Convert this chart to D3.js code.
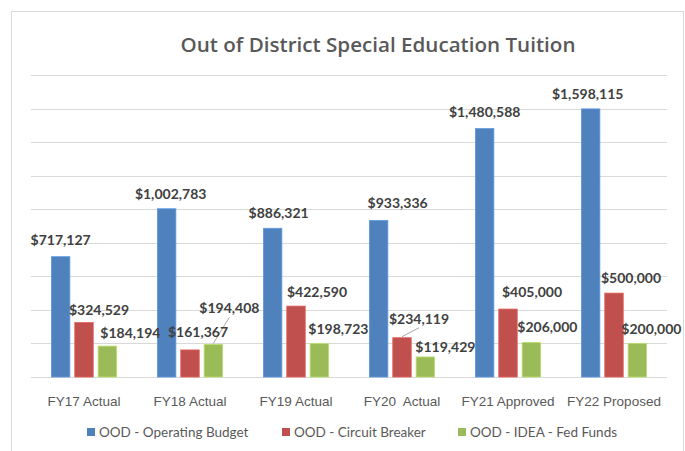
<!DOCTYPE html>
<html>
<head>
<meta charset="utf-8">
<script src="https://cdn.jsdelivr.net/npm/d3@7"></script>
<style>
  html, body { margin: 0; padding: 0; background: #fff; }
  svg { display: block; font-family: Lato, "Open Sans", sans-serif; }
  .grid line { stroke: #d9d9d9; stroke-width: 1; }
  .val { font-weight: bold; font-size: 14px; fill: #404040; }
  .cat { font-size: 13.5px; fill: #595959; }
  .leg { font-size: 13.5px; fill: #595959; }
</style>
</head>
<body>
<svg id="chart" width="685" height="451"></svg>
<script>
// data
const categories = ["FY17 Actual", "FY18 Actual", "FY19 Actual", "FY20  Actual", "FY21 Approved", "FY22 Proposed"];
const seriesNames = ["OOD - Operating Budget", "OOD - Circuit Breaker", "OOD - IDEA - Fed Funds"];
const operatingBudget = [717127, 1002783, 886321, 933336, 1480588, 1598115];
const circuitBreaker = [324529, 161367, 422590, 234119, 405000, 500000];
const ideaFedFunds = [184194, 194408, 198723, 119429, 206000, 200000];
const yTicks = [0, 200000, 400000, 600000, 800000, 1000000, 1200000, 1400000, 1600000, 1800000];

const colors = ["#4f81bd", "#c0504d", "#9bbb59"];

// label nudges (dx, dy from bar top centre), mimics Excel's moved labels
const labelNudge = [
  [[0, -12], [4, -10], [6, -10], [19, -12], [0, -12], [-3, -10]],
  [[15, -8], [8, -13], [21, -9], [17, -14], [24, -12], [17, -10]],
  [[23, -8], [16, -31], [19, -10], [20, -5], [16, -10], [14, -9]]
];
// which labels have a leader line
const leaders = [[1, 2], [3, 1]]; // [category index, series index]

const values = [operatingBudget, circuitBreaker, ideaFedFunds];

const svg = d3.select("#chart");
const plot = { left: 31, right: 667, top: 75, bottom: 377 };

// chart border
svg.append("rect")
  .attr("x", 11.5).attr("y", 11.5)
  .attr("width", 672).attr("height", 460)
  .attr("fill", "none")
  .attr("stroke", "#d9d9d9");

svg.append("text")
  .attr("x", 378).attr("y", 52)
  .attr("text-anchor", "middle")
  .style("font-family", "'Open Sans', sans-serif")
  .style("font-size", "20.6px")
  .style("font-weight", 600)
  .style("fill", "#595959")
  .text("Out of District Special Education Tuition");

const x0 = d3.scaleBand()
  .domain(categories)
  .range([plot.left, plot.right])
  .paddingInner(0.385)
  .paddingOuter(0.1925);

const x1 = d3.scaleBand()
  .domain(d3.range(3))
  .range([0, x0.bandwidth()])
  .paddingInner(0.21);

const y = d3.scaleLinear()
  .domain([0, 1800000])
  .range([plot.bottom, plot.top]);

// gridlines
svg.append("g").attr("class", "grid")
  .selectAll("line")
  .data(yTicks)
  .join("line")
  .attr("x1", plot.left).attr("x2", plot.right)
  .attr("y1", d => Math.round(y(d)) + 0.5)
  .attr("y2", d => Math.round(y(d)) + 0.5);

// bars
const rows = [];
categories.forEach((c, i) => {
  values.forEach((s, j) => rows.push({ cat: c, ci: i, si: j, v: s[i] }));
});

svg.append("g")
  .selectAll("rect")
  .data(rows)
  .join("rect")
  .attr("x", d => x0(d.cat) + x1(d.si))
  .attr("y", d => y(d.v))
  .attr("width", x1.bandwidth())
  .attr("height", d => y(0) - y(d.v))
  .attr("fill", d => colors[d.si])
  .attr("stroke", d => d3.color(colors[d.si]).brighter(0.5))
  .attr("stroke-width", 0.8);

// leader lines
svg.append("g")
  .selectAll("line")
  .data(rows.filter(d => leaders.some(l => l[0] === d.ci && l[1] === d.si)))
  .join("line")
  .attr("x1", d => x0(d.cat) + x1(d.si) + x1.bandwidth() / 2)
  .attr("y1", d => y(d.v) - 1)
  .attr("x2", d => x0(d.cat) + x1(d.si) + x1.bandwidth() / 2 + labelNudge[d.si][d.ci][0])
  .attr("y2", d => y(d.v) + labelNudge[d.si][d.ci][1] + 4)
  .attr("stroke", "#a6a6a6")
  .attr("stroke-width", 1);

// value labels
const fmt = d3.format("$,");
svg.append("g")
  .selectAll("text")
  .data(rows)
  .join("text")
  .attr("class", "val")
  .attr("text-anchor", "middle")
  .attr("x", d => x0(d.cat) + x1(d.si) + x1.bandwidth() / 2 + labelNudge[d.si][d.ci][0])
  .attr("y", d => y(d.v) + labelNudge[d.si][d.ci][1])
  .text(d => fmt(d.v));

// category axis
const xAxis = svg.append("g")
  .attr("transform", `translate(0,${plot.bottom})`)
  .call(d3.axisBottom(x0).tickSize(0).tickPadding(19));
xAxis.select(".domain").remove();
xAxis.selectAll("text").attr("class", "cat").attr("font-family", null).attr("font-size", null).attr("fill", null)
  .text(d => d);
xAxis.selectAll("text").style("white-space", "pre").attr("xml:space", "preserve");

// legend
const legX = [87, 282, 458];
const leg = svg.append("g")
  .selectAll("g")
  .data(seriesNames)
  .join("g")
  .attr("transform", (d, i) => `translate(${legX[i]},432)`);
leg.append("rect")
  .attr("x", 0).attr("y", -4)
  .attr("width", 8).attr("height", 8)
  .attr("fill", (d, i) => colors[i]);
leg.append("text")
  .attr("class", "leg")
  .attr("x", 12).attr("y", 5)
  .text(d => d);
</script>
</body>
</html>
